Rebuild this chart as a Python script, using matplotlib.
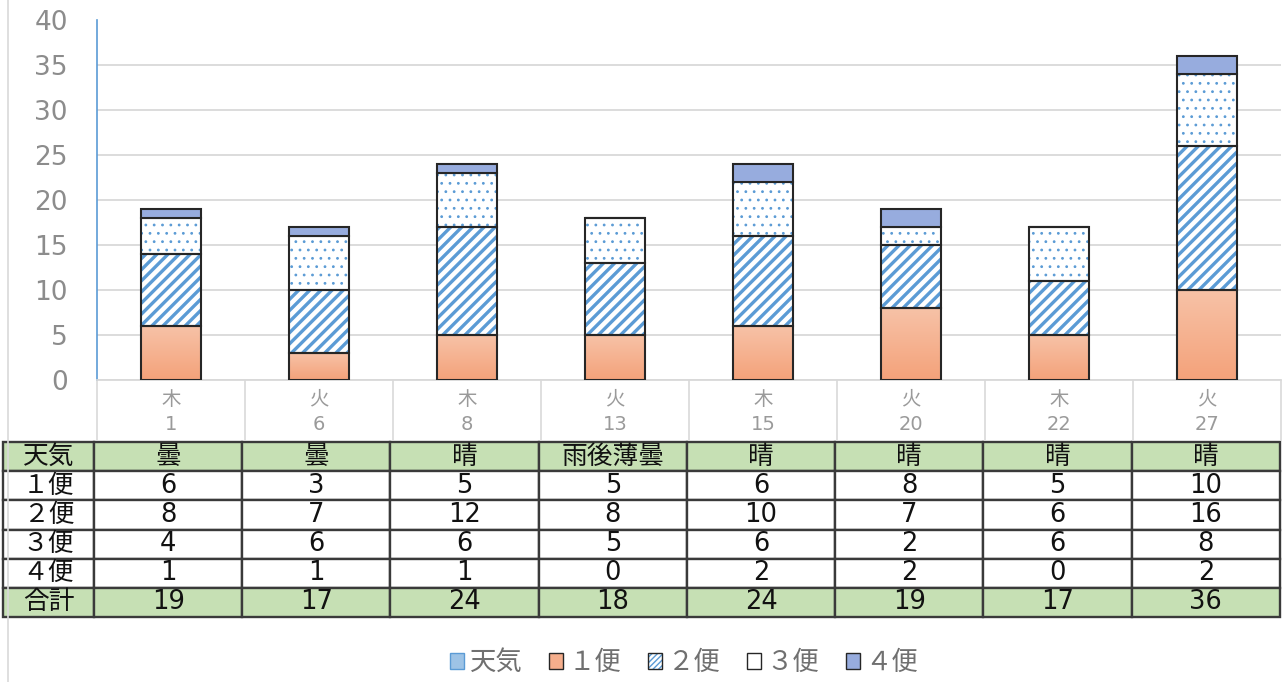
import numpy as np
import matplotlib
matplotlib.use('Agg')
import matplotlib.pyplot as plt
from matplotlib.patches import Patch
from matplotlib.lines import Line2D
from matplotlib.colors import LinearSegmentedColormap, to_rgba

plt.rcParams['font.family'] = ['DejaVu Sans', 'Noto Sans CJK JP']

# ---- data ----
weekdays = ['木', '火', '木', '火', '木', '火', '木', '火']
dates = ['1', '6', '8', '13', '15', '20', '22', '27']
weather = ['曇', '曇', '晴', '雨後薄曇', '晴', '晴', '晴', '晴']
series_names = ['１便', '２便', '３便', '４便']
bin1 = [6, 3, 5, 5, 6, 8, 5, 10]
bin2 = [8, 7, 12, 8, 10, 7, 6, 16]
bin3 = [4, 6, 6, 5, 6, 2, 6, 8]
bin4 = [1, 1, 1, 0, 2, 2, 0, 2]
yticks = [0, 5, 10, 15, 20, 25, 30, 35, 40]

# ---- style ----
W, H = 1282, 682
edge = '#262626'
blue = '#5b9bd5'
grid_c = '#d9d9d9'
green = '#c6e0b4'
c4 = '#97acde'

fig = plt.figure(figsize=(W / 100, H / 100), dpi=100)
ax = fig.add_axes([97 / W, (H - 380) / H, (1281 - 97) / W, 360 / H])

x = np.arange(len(dates))
bw = 0.4
a1 = np.array(bin1)
a2 = np.array(bin2)
a3 = np.array(bin3)
a4 = np.array(bin4)
totals = a1 + a2 + a3 + a4


def set_hlw(container, lw):
    for p in container:
        if hasattr(p, 'set_hatch_linewidth'):
            p.set_hatch_linewidth(lw)


# 1便 with vertical gradient
grad_cmap = LinearSegmentedColormap.from_list('g', ['#f4a27a', '#f7c2a7'])
bars1 = ax.bar(x, a1, bw, color='none', edgecolor=edge, lw=1.5, zorder=4)
grad = np.linspace(0, 1, 128).reshape(-1, 1)
for b in bars1:
    x0, y0, w, h = b.get_x(), b.get_y(), b.get_width(), b.get_height()
    ax.imshow(grad, extent=[x0, x0 + w, y0, y0 + h], origin='lower',
              cmap=grad_cmap, aspect='auto', zorder=3, interpolation='bilinear')

# 2便 hatched
with plt.rc_context({'hatch.linewidth': 2.4}):
    b2 = ax.bar(x, a2, bw, bottom=a1, color='white', edgecolor=blue, lw=0, hatch='///', zorder=3)
    set_hlw(b2, 2.4)
ax.bar(x, a2, bw, bottom=a1, color='none', edgecolor=edge, lw=1.5, zorder=4)
# 3便 dotted
with plt.rc_context({'hatch.linewidth': 0.8}):
    b3 = ax.bar(x, a3, bw, bottom=a1 + a2, color='white', edgecolor=blue, lw=0, hatch='..', zorder=3)
    set_hlw(b3, 0.8)
ax.bar(x, a3, bw, bottom=a1 + a2, color='none', edgecolor=edge, lw=1.5, zorder=4)
# 4便
ax.bar(x, a4, bw, bottom=a1 + a2 + a3, color=c4, edgecolor=edge, lw=1.5, zorder=4)

ax.set_xlim(-0.5, len(x) - 0.5)
ax.set_ylim(0, 40)
ax.set_yticks(yticks)
ax.set_axisbelow(True)
ax.yaxis.grid(True, color=grid_c, lw=1.3)
ax.get_ygridlines()[-1].set_visible(False)

for s in ['top', 'right']:
    ax.spines[s].set_visible(False)
ax.spines['left'].set_color(blue)
ax.spines['left'].set_linewidth(1.2)
ax.spines['bottom'].set_color(grid_c)
ax.spines['bottom'].set_linewidth(1.3)

ax.tick_params(axis='y', length=0, pad=21, labelsize=19, labelcolor='#8c8c8c')
ax.set_xticks(x)
ax.set_xticklabels([f'{d}\n{n}' for d, n in zip(weekdays, dates)], linespacing=1.45)
ax.tick_params(axis='x', which='major', length=0, pad=7, labelsize=14, labelcolor='#9a9a9a')
ax.set_xticks(np.arange(-0.5, len(x)), minor=True)
ax.tick_params(axis='x', which='minor', length=44, width=1.2, color=grid_c, direction='out')

# ---- table ----
cell_text = [['天気'] + weather]
for name, arr in zip(series_names, [a1, a2, a3, a4]):
    cell_text.append([name] + [str(v) for v in arr])
cell_text.append(['合計'] + [str(v) for v in totals])

axw = 1281 - 97
tbl = ax.table(cellText=cell_text, colWidths=[91] + [148.3] * len(x), cellLoc='center',
               bbox=[(3 - 97) / axw, (380 - 617) / 360, (1280 - 3) / axw, 175 / 360])
tbl.auto_set_font_size(False)
for (r, c), cell in tbl.get_celld().items():
    cell.set_edgecolor('#3a3a3a')
    cell.set_linewidth(1.7)
    cell.get_text().set_fontsize(18.5)
    cell.get_text().set_color('#111111')
    if r in (0, len(cell_text) - 1):
        cell.set_facecolor(green)
    else:
        cell.set_facecolor('white')

# left chart border
fig.add_artist(Line2D([8 / W, 8 / W], [0, 1], color=grid_c, lw=1.2, transform=fig.transFigure))

# ---- legend ----
h_w = Patch(facecolor='#9dc3e6', edgecolor=blue, label='天気')
h1 = Patch(facecolor='#f5ae8c', edgecolor=edge, label=series_names[0])
h2 = Patch(facecolor='white', edgecolor=edge, hatch='//////', label=series_names[1])
h2._hatch_color = to_rgba(blue)
h3 = Patch(facecolor='white', edgecolor=edge, label=series_names[2])
h4 = Patch(facecolor=c4, edgecolor=edge, label=series_names[3])
fig.legend(handles=[h_w, h1, h2, h3, h4], loc='center', bbox_to_anchor=(684 / W, 1 - 663 / H),
           ncol=5, frameon=False, fontsize=19, handlelength=0.55, handleheight=0.55,
           handletextpad=0.2, columnspacing=1.0, labelcolor='#707070')

fig.savefig('out.png', dpi=100)
